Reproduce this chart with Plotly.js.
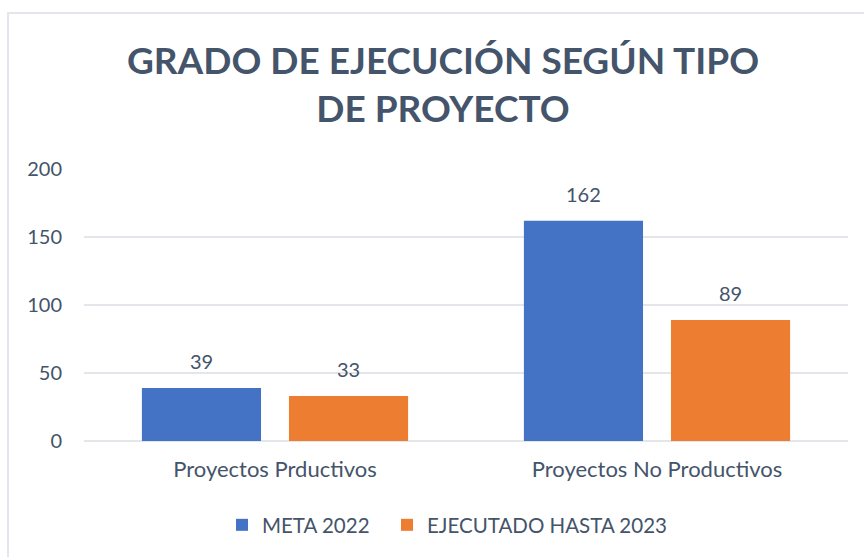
<!DOCTYPE html>
<html>
<head>
<meta charset="utf-8">
<script src="https://cdn.plot.ly/plotly-3.0.1.min.js"></script>
<style>
  html, body { margin: 0; padding: 0; background: #fff; }
  #chart { width: 864px; height: 557px; position: relative; }
  #frame { position: absolute; left: 7px; top: 12px; width: 2000px; height: 2000px;
           border-left: 2px solid #E3E7EC; border-top: 2px solid #E3E7EC; pointer-events: none; }
</style>
</head>
<body>
<div id="chart"></div>
<div id="frame"></div>
<script>
const categories = ["Proyectos Prductivos", "Proyectos No Productivos"];
const seriesNames = ["META 2022", "EJECUTADO HASTA 2023"];
const meta2022 = [39, 162];
const ejecutado2023 = [33, 89];
const yTicks = [0, 50, 100, 150, 200];
const titleText = "GRADO DE EJECUCIÓN SEGÚN TIPO<br>DE PROYECTO";

const colors = ["#4472C4", "#ED7D31"];
const textColor = "#44546A";
const font = "Lato, 'Open Sans', sans-serif";
const bargap = 0.23;

const traces = [
  { type: "bar", name: seriesNames[0], x: categories, y: meta2022, legend: "legend",
    marker: { color: colors[0] }, hoverinfo: "x+y" },
  { type: "bar", name: seriesNames[1], x: categories, y: ejecutado2023, legend: "legend2",
    marker: { color: colors[1] }, hoverinfo: "x+y" }
];

// data labels above bars via annotations placed on the category scale
const slot = (1 - bargap) / 2;
const annotations = [];
[meta2022, ejecutado2023].forEach((vals, s) => {
  vals.forEach((v, i) => {
    annotations.push({
      x: i + (s === 0 ? -slot / 2 : slot / 2), y: v, xref: "x", yref: "y",
      text: String(v), showarrow: false, yanchor: "bottom", yshift: 13,
      font: { family: font, size: 20, color: textColor }
    });
  });
});

const legendBase = {
  orientation: "h", xanchor: "left", xref: "container",
  y: 1 - 525 / 557, yanchor: "middle", yref: "container",
  font: { family: font, size: 20.5, color: textColor },
  itemwidth: 30, bgcolor: "rgba(0,0,0,0)"
};

const layout = {
  width: 864, height: 557,
  paper_bgcolor: "#ffffff", plot_bgcolor: "#ffffff",
  margin: { l: 84, r: 16, t: 169, b: 116 },
  font: { family: font, color: textColor, size: 20 },
  title: {
    text: titleText,
    font: { family: font, size: 37, color: textColor, weight: "bold" },
    x: 443 / 864, xanchor: "center", xref: "container",
    y: 1 - 74 / 557, yanchor: "middle", yref: "container"
  },
  barmode: "group",
  bargap: bargap,
  bargroupgap: 0.19,
  xaxis: {
    type: "category",
    showgrid: false, showline: false, zeroline: false,
    ticks: "", ticklabelstandoff: 13,
    tickfont: { family: font, size: 22, color: textColor }
  },
  yaxis: {
    range: [0, 200], tickvals: yTicks, ticktext: yTicks.map(String),
    showgrid: true, gridcolor: "#E3E7EC", gridwidth: 1.5,
    zeroline: true, zerolinecolor: "#E3E7EC", zerolinewidth: 1.5,
    showline: false, ticks: "", ticklabelstandoff: 21,
    tickfont: { family: font, size: 20, color: textColor }
  },
  showlegend: true,
  legend: Object.assign({}, legendBase, { x: 222 / 864 }),
  legend2: Object.assign({}, legendBase, { x: 387 / 864 }),
  annotations: annotations
};

Plotly.newPlot("chart", traces, layout, { displayModeBar: false, staticPlot: true });
</script>
</body>
</html>
